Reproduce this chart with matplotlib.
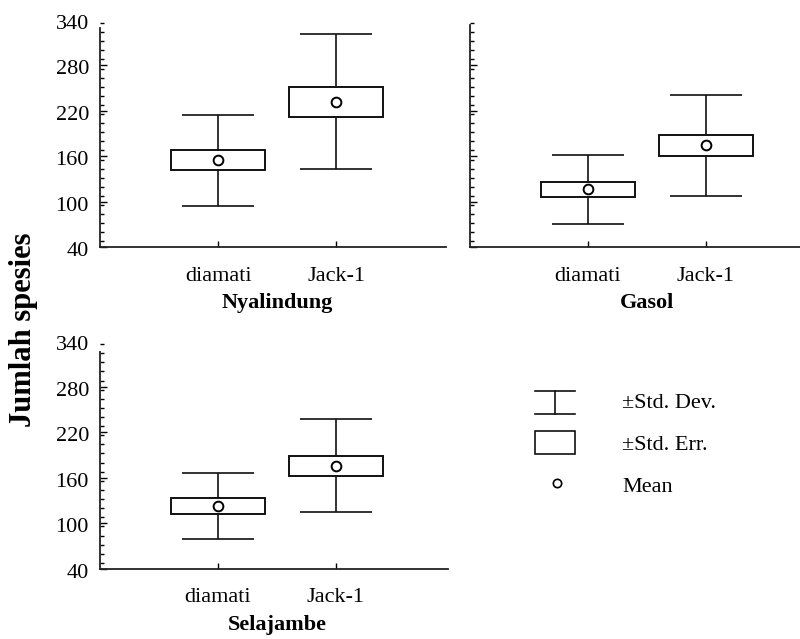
import matplotlib
matplotlib.use("Agg")
import matplotlib.pyplot as plt
from matplotlib.ticker import MultipleLocator
from matplotlib.patches import Rectangle
from matplotlib.transforms import offset_copy

plt.rcParams['font.family'] = ['Liberation Serif', 'DejaVu Serif']

groups = ["diamati", "Jack-1"]
sites = ["Nyalindung", "Gasol", "Selajambe"]
mean_nyalindung = [155, 232]
se_nyalindung = [13, 19.5]
sd_nyalindung = [60, 89]
mean_gasol = [116.5, 175]
se_gasol = [10.2, 14]
sd_gasol = [45.5, 66.5]
mean_selajambe = [123, 176]
se_selajambe = [10, 13]
sd_selajambe = [43.5, 61.5]
yticks = [40, 100, 160, 220, 280, 340]

data = [(mean_nyalindung, se_nyalindung, sd_nyalindung),
        (mean_gasol, se_gasol, sd_gasol),
        (mean_selajambe, se_selajambe, sd_selajambe)]

W, H = 800, 639
fig = plt.figure(figsize=(8, 6.39), dpi=100)

# axes boxes in pixels: left, right, y of 340, y of 40
boxes = [(100, 446, 20, 247.5), (470, 800, 20, 247.5), (100, 448, 341, 569)]
xmax = [2.93, 2.8, 2.95]
spine_top = [330, 333, 326]

for i, (site, (m, se, sd)) in enumerate(zip(sites, data)):
    l, r, t, b = boxes[i]
    ax = fig.add_axes([l / W, 1 - b / H, (r - l) / W, (b - t) / H])
    x = [1, 2]
    ax.errorbar(x, m, yerr=sd, fmt='none', ecolor='#111111', elinewidth=1.2,
                capsize=26, capthick=1.2, zorder=1)
    lo = [mi - s for mi, s in zip(m, se)]
    ax.bar(x, [2 * s for s in se], bottom=lo, width=0.8, color='white',
           edgecolor='#111111', linewidth=1.4, zorder=2)
    ax.plot(x, m, 'o', mfc='white', mec='black', ms=7, mew=1.4, zorder=3)

    ax.set_xlim(0, xmax[i])
    ax.set_ylim(40, 340)
    for s in ['top', 'right']:
        ax.spines[s].set_visible(False)
    ax.spines['left'].set_bounds(40, spine_top[i])
    for s in ['left', 'bottom']:
        ax.spines[s].set_linewidth(1.3)
        ax.spines[s].set_color('#222222')

    ax.set_xticks(x)
    ax.set_xticklabels(groups, fontsize=16)
    ax.tick_params(axis='x', direction='in', length=4, width=1, pad=14)
    ax.set_yticks(yticks)
    ax.yaxis.set_minor_locator(MultipleLocator(12))
    ax.tick_params(axis='y', which='major', direction='in', length=5, width=1, pad=8)
    ax.tick_params(axis='y', which='minor', direction='in', length=3, width=1)
    ax.yaxis.get_major_ticks()[-1].tick1line.set_visible(False)
    if i == 1:
        ax.set_yticklabels([])
    else:
        ax.set_yticklabels([str(v) for v in yticks], fontsize=16)
        for lab in ax.get_yticklabels():
            lab.set_transform(offset_copy(lab.get_transform(), fig=fig, y=-2, units='dots'))

    ax.text(1.5, -56 / (b - t), site, transform=ax.get_xaxis_transform(),
            ha='center', va='center', fontsize=16, fontweight='bold')

fig.text(24 / W, 1 - 330 / H, "Jumlah spesies", rotation=90, ha='center',
         va='center', fontsize=22, fontweight='bold')

# legend
lg = fig.add_axes([0, 0, 1, 1])
lg.set_xlim(0, W)
lg.set_ylim(H, 0)
lg.axis('off')
lg.plot([555, 555], [391, 414], color='#111111', lw=1.2)
lg.plot([535, 575], [391, 391], color='#111111', lw=1.2)
lg.plot([535, 575], [414, 414], color='#111111', lw=1.2)
lg.add_patch(Rectangle((535, 431), 40, 23, fill=False, edgecolor='#111111', lw=1.2))
lg.plot([557], [483], 'o', mfc='white', mec='black', ms=6, mew=1.2)
legend_labels = ["\u00b1Std. Dev.", "\u00b1Std. Err.", "Mean"]
for lab, yy in zip(legend_labels, [403, 445, 487]):
    lg.text(622, yy, lab, ha='left', va='center', fontsize=16)

fig.savefig("out.png", dpi=100)
